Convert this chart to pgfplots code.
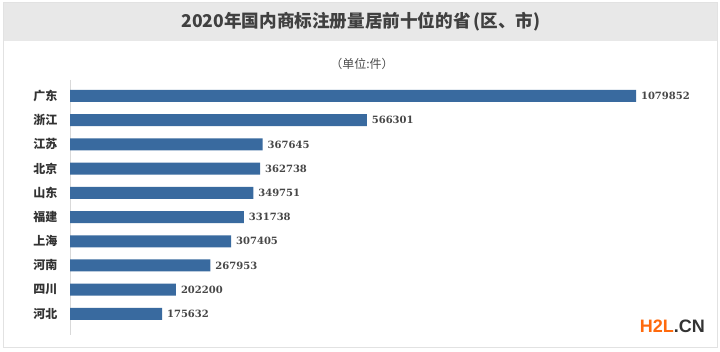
\documentclass[border=0pt]{standalone}
\usepackage{fontspec}
\usepackage{pgfplots}
\pgfplotsset{compat=1.18}
\newfontfamily\cjk{Noto Sans CJK SC}
\newfontfamily\wm{Liberation Sans}
\newfontfamily\numf{DejaVu Serif}
\definecolor{barblue}{HTML}{396A9F}
\definecolor{bandgrey}{HTML}{E8E8E8}
\definecolor{framegrey}{HTML}{E2E2E2}
\definecolor{wmorange}{HTML}{FF6A0D}
\begin{document}
\begin{tikzpicture}[x=1pt,y=1pt]
\path[use as bounding box] (0,0) rectangle (720,352);
\fill[white] (0,0) rectangle (720,352);
\filldraw[fill=white, draw=framegrey, line width=1pt] (3,4) rectangle (717,349);
\fill[bandgrey] (3.5,311) rectangle (716.5,348.5);
\node[font=\cjk\bfseries\fontsize{17.6}{20}\selectfont, text=black!75] at (361,330) {2020年国内商标注册量居前十位的省\,(区、市)};
\node[font=\cjk\fontsize{12}{14}\selectfont, text=black!70] at (362,288) {（单位:件）};
\begin{axis}[
  at={(70pt,17pt)}, anchor=south west,
  scale only axis, width=566pt, height=255pt,
  xmin=0, xmax=1079852,
  ymin=-0.66, ymax=9.87, y dir=reverse,
  clip=false,
  hide x axis,
  axis y line*=left,
  y axis line style={draw=black!15, line width=0.8pt},
  ytick={0,...,9},
  yticklabels={广东,浙江,江苏,北京,山东,福建,上海,河南,四川,河北},
  yticklabel style={font=\cjk\bfseries\fontsize{12}{14}\selectfont, text=black!80, xshift=-9pt},
  major tick length=0pt,
  ytick style={draw=none},
  xbar, bar width=12pt,
  point meta=explicit symbolic,
  nodes near coords={\pgfplotspointmeta},
  nodes near coords style={anchor=west, font=\numf\bfseries\fontsize{10}{12}\selectfont, text=black!72, xshift=1.5pt},
]
\addplot[fill=barblue, draw=none] table[x=v, y=i, meta=v] {
i v
0 1079852
1 566301
2 367645
3 362738
4 349751
5 331738
6 307405
7 267953
8 202200
9 175632
};
\end{axis}
\node[anchor=east, font=\wm\bfseries\fontsize{18}{20}\selectfont, inner sep=0pt] at (705,26) {\textcolor{wmorange}{H2L}\textcolor{black!80}{.CN}};
\end{tikzpicture}
\end{document}
